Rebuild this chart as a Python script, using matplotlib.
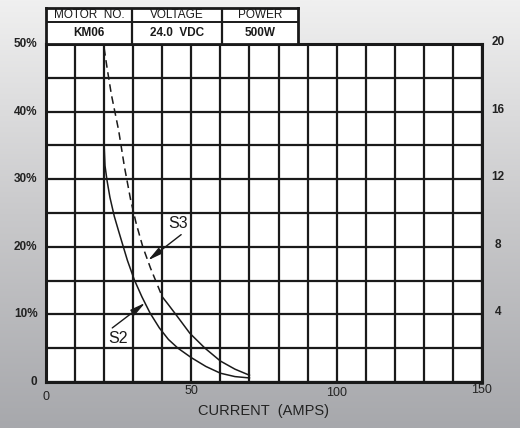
import matplotlib.pyplot as plt
import numpy as np
from matplotlib.colors import LinearSegmentedColormap

# data (current in amps, value in %)
s2_amps = [20, 20.3, 21, 22, 23.5, 25, 26.6, 28, 30.4, 33, 35.8, 39, 42.1, 45.4, 50, 55, 60, 65, 70]
s2_pct = [35, 32, 29.8, 27.3, 24.5, 22.3, 20, 18, 15.1, 12.6, 10.2, 8.0, 6.3, 5.0, 3.6, 2.3, 1.3, 0.8, 0.6]
s3_dash_amps = [20, 21, 22.5, 25, 27, 29.1, 31, 33.3, 36, 38.1, 40]
s3_dash_pct = [49.4, 46.5, 42.5, 37.2, 31.8, 27, 23.5, 20, 16.8, 14.6, 12.6]
s3_solid_amps = [40, 42, 45, 49.5, 54.7, 60, 65, 70]
s3_solid_pct = [12.6, 11.5, 9.8, 7.2, 5.0, 3.1, 1.9, 1.0]

x_ticks = [0, 50, 100, 150]
y_ticks = [0, 10, 20, 30, 40, 50]
y_labels = ['0', '10%', '20%', '30%', '40%', '50%']
right_labels = ['', '4', '8', '12', '16', '20']

table_head = ['MOTOR  NO.', 'VOLTAGE', 'POWER']
table_vals = ['KM06', '24.0  VDC', '500W']

plt.rcParams['font.family'] = ['Liberation Sans', 'DejaVu Sans']

fig = plt.figure(figsize=(5.2, 4.28), dpi=100)

# grey gradient background
bg = fig.add_axes([0, 0, 1, 1], zorder=-10)
grad = np.linspace(0, 1, 256).reshape(-1, 1)
cmap = LinearSegmentedColormap.from_list('bg', ['#f0f0f0', '#c9c9cb', '#a7a8ac'])
bg.imshow(grad, aspect='auto', cmap=cmap, extent=[0, 1, 0, 1], origin='upper')
bg.axis('off')

ax = fig.add_axes([46 / 520, 46 / 428, 436 / 520, 338 / 428])
ax.set_facecolor('white')
ax.set_xlim(0, 150)
ax.set_ylim(0, 50)
ax.set_xticks(np.arange(0, 151, 10))
ax.set_yticks(np.arange(0, 51, 5))
ax.grid(True, color='#1a1a1a', linewidth=1.6)
ax.tick_params(length=0, labelbottom=False, labelleft=False)
for sp in ax.spines.values():
    sp.set_linewidth(2.2)
    sp.set_color('#1a1a1a')

# tick labels as text
x_off = [-2.2, -1.3, -1.6, -1.2]
for v, off in zip(x_ticks, x_off):
    ax.text(v, off, str(v), ha='center', va='center', fontsize=9, color='#222222')
for v, lab in zip(y_ticks, y_labels):
    ax.text(-2.9, v, lab, ha='right', va='center', fontsize=8.5, fontweight='bold', color='#222222')
for v, lab in zip(y_ticks, right_labels):
    ax.text(155.5, v + 0.3, lab, ha='center', va='center', fontsize=8.5, fontweight='bold', color='#222222')
ax.text(75, -4.3, 'CURRENT  (AMPS)', ha='center', va='center', fontsize=10.5, color='#222222')

# curves
ax.plot(s2_amps, s2_pct, color='#1a1a1a', linewidth=1.1)
ax.plot(s3_dash_amps, s3_dash_pct, color='#1a1a1a', linewidth=1.1, linestyle=(0, (5, 3)))
ax.plot(s3_solid_amps, s3_solid_pct, color='#1a1a1a', linewidth=1.1)

arrow = dict(arrowstyle='-|>,head_length=0.9,head_width=0.2', color='#1a1a1a', lw=1.0, shrinkA=0, shrinkB=0)
ax.annotate('', xy=(35.1, 18.0), xytext=(46.5, 21.8), arrowprops=arrow)
ax.text(45.5, 23.5, 'S3', ha='center', va='center', fontsize=11.5, color='#1a1a1a')
ax.annotate('', xy=(34.1, 11.7), xytext=(22.8, 8.0), arrowprops=arrow)
ax.text(24.8, 6.4, 'S2', ha='center', va='center', fontsize=11.5, color='#1a1a1a')

# header table above the plot
tab = fig.add_axes([46 / 520, 384 / 428, 252 / 520, 36 / 428])
tab.set_xlim(46, 298)
tab.set_ylim(44, 8)
tab.set_facecolor('white')
for sp in tab.spines.values():
    sp.set_linewidth(2.0)
    sp.set_color('#1a1a1a')
tab.set_xticks([])
tab.set_yticks([])
cols = [46, 132, 222, 298]
for c in cols[1:-1]:
    tab.plot([c, c], [8, 44], color='#1a1a1a', linewidth=1.6)
tab.plot([46, 298], [21.5, 21.5], color='#1a1a1a', linewidth=1.4)
for i in range(3):
    cx = (cols[i] + cols[i + 1]) / 2
    tab.text(cx, 15, table_head[i], ha='center', va='center', fontsize=8.5, color='#1a1a1a')
    tab.text(cx, 32.5, table_vals[i], ha='center', va='center', fontsize=8.5, fontweight='bold', color='#1a1a1a')

fig.savefig('out.png', dpi=100)
